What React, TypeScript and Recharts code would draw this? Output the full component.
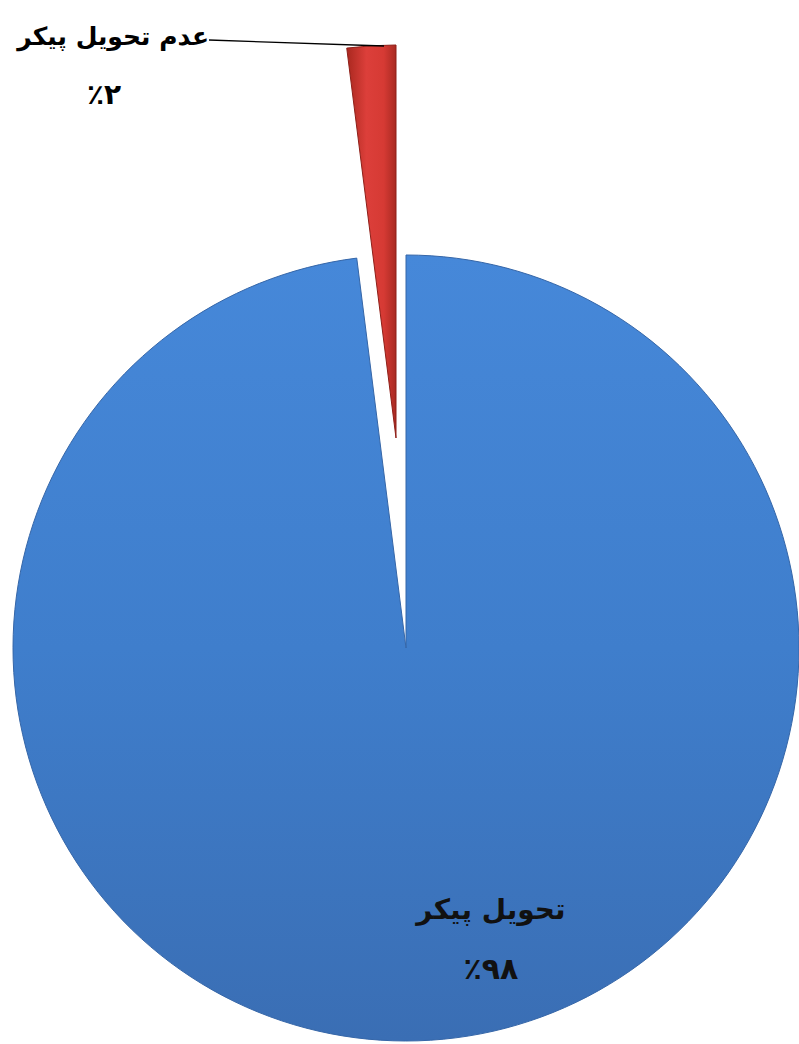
import React from "react";
import { PieChart, Pie, Cell } from "recharts";

// slices, clockwise from 12 o'clock
const sliceNames = ["تحویل پیکر", "عدم تحویل پیکر"];
const sliceValues = [98, 2];
const sliceLabels = ["٪۹۸", "٪۲"];

const data = sliceNames.map((name, i) => ({
  name,
  value: sliceValues[i],
  pct: sliceLabels[i],
}));

const W = 799;
const H = 1044;
const CX = 406;
const CY = 648;
const R = 393;
// explode offset for the small slice
const EX = -10;
const EY = -210;

const FONT = "'DejaVu Sans', sans-serif";

const blueLabel = (p: any) => {
  if (p.index !== 0) return null;
  const x = p.cx + p.outerRadius * 0.216;
  const y = p.cy + p.outerRadius * 0.69;
  return (
    <g>
      <text x={x} y={y} textAnchor="middle" fontFamily={FONT} fontWeight="bold" fontSize={28} fill="#111">
        {p.name}
      </text>
      <text x={x} y={y + 60} textAnchor="middle" fontFamily={FONT} fontWeight="bold" fontSize={30} fill="#111">
        {p.payload.pct}
      </text>
    </g>
  );
};

const redLabel = (p: any) => {
  if (p.index !== 1) return null;
  const topX = p.cx - 12;
  const topY = p.cy - p.outerRadius + 1;
  const endX = 209;
  const endY = topY - 6;
  return (
    <g>
      <line x1={topX} y1={topY} x2={endX} y2={endY} stroke="#000" strokeWidth={1.3} />
      <text x={endX} y={endY + 5} textAnchor="end" fontFamily={FONT} fontWeight="bold" fontSize={25} fill="#000">
        {p.name}
      </text>
      <text x={104} y={endY + 64} textAnchor="middle" fontFamily={FONT} fontWeight="bold" fontSize={28} fill="#000">
        {p.payload.pct}
      </text>
    </g>
  );
};

export default function App() {
  return (
    <div style={{ position: "absolute", left: 0, top: 0, width: W, height: H, background: "#fff" }}>
      <PieChart width={W} height={H} margin={{ top: 0, right: 0, bottom: 0, left: 0 }}>
        <defs>
          <linearGradient id="blueFill" x1="0" y1="0" x2="0" y2="1">
            <stop offset="0%" stopColor="#4688D9" />
            <stop offset="50%" stopColor="#3F7ECC" />
            <stop offset="100%" stopColor="#3A6EB4" />
          </linearGradient>
          <linearGradient id="redFill" x1="0" y1="0" x2="1" y2="0">
            <stop offset="0%" stopColor="#A9281F" />
            <stop offset="40%" stopColor="#DC3F3A" />
            <stop offset="75%" stopColor="#D63A34" />
            <stop offset="100%" stopColor="#A82A22" />
          </linearGradient>
        </defs>
        <Pie
          data={data}
          dataKey="value"
          nameKey="name"
          cx={CX}
          cy={CY}
          outerRadius={R}
          startAngle={90}
          endAngle={-270}
          label={blueLabel}
          labelLine={false}
          isAnimationActive={false}
        >
          <Cell fill="url(#blueFill)" stroke="#3566A8" strokeWidth={1} />
          <Cell fill="none" stroke="none" />
        </Pie>
        <Pie
          data={data}
          dataKey="value"
          nameKey="name"
          cx={CX + EX}
          cy={CY + EY}
          outerRadius={R}
          startAngle={90}
          endAngle={-270}
          label={redLabel}
          labelLine={false}
          isAnimationActive={false}
        >
          <Cell fill="none" stroke="none" />
          <Cell fill="url(#redFill)" stroke="#8E1F18" strokeWidth={1} />
        </Pie>
      </PieChart>
    </div>
  );
}
